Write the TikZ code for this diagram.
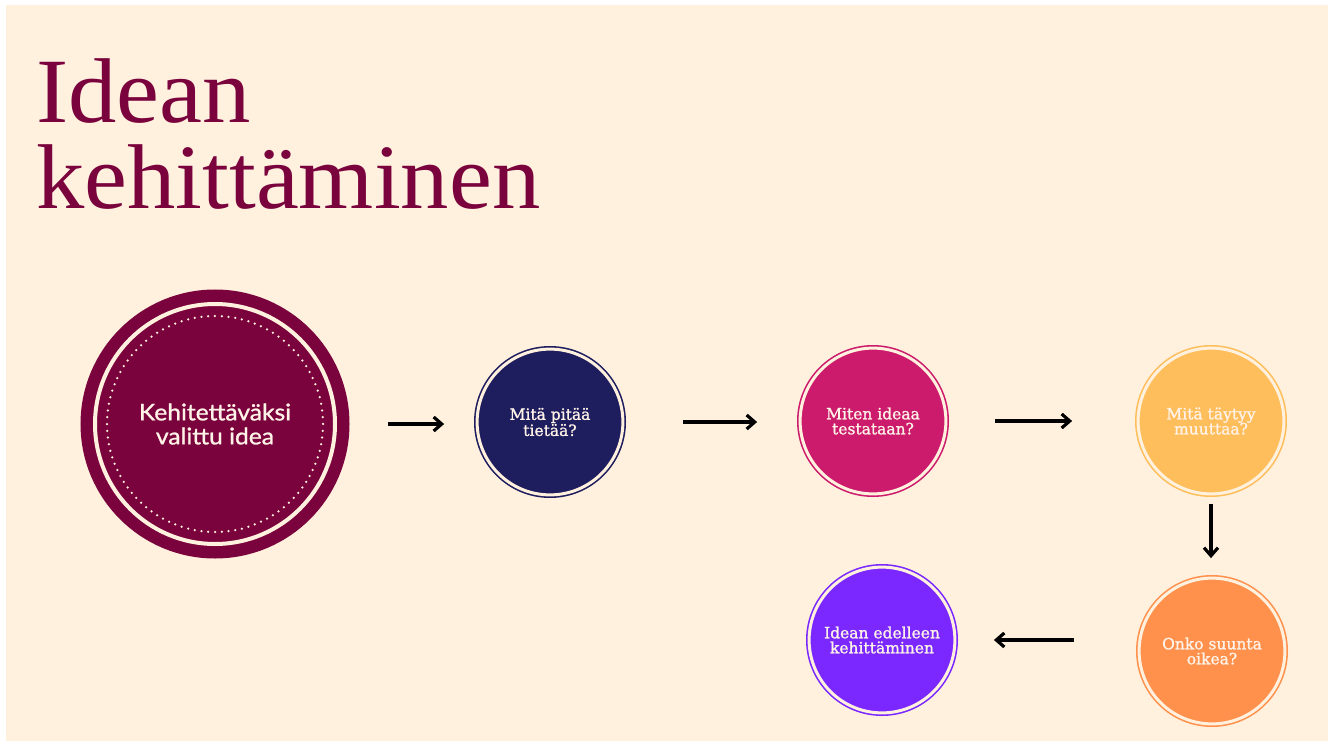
\documentclass[tikz,border=0pt]{standalone}
\usepackage{fontspec}
\setmainfont{Liberation Serif}
\newfontfamily\circfont[FakeBold=1.2]{DejaVu Serif}
\newfontfamily\bigfont[FakeBold=1]{Lato}
\usetikzlibrary{arrows.meta}
\definecolor{cream}{RGB}{255,241,222}
\definecolor{maroon}{RGB}{122,3,61}
\definecolor{navy}{RGB}{30,29,94}
\definecolor{pinkc}{RGB}{204,27,108}
\definecolor{yellowc}{RGB}{255,190,92}
\definecolor{orangec}{RGB}{255,145,77}
\definecolor{purplec}{RGB}{122,40,255}
\definecolor{textc}{RGB}{255,243,232}
\tikzset{
  titletext/.style={inner sep=0pt, outer sep=0pt, text=maroon, anchor=base west,
    font=\fontsize{92}{92}\selectfont},
  stage/.style={circle, minimum size=145.8pt, inner sep=0pt, outer sep=0pt,
    fill=#1, draw=#1, line width=1.6pt, double=cream, double distance=3pt,
    text=textc, align=center, font=\circfont\fontsize{15.5}{15}\selectfont},
  bigc/.style={circle, minimum size=240pt, inner sep=0pt, outer sep=0pt,
    fill=maroon, draw=maroon, line width=12.5pt, double=cream, double distance=4pt,
    text=textc, align=center, font=\bigfont\fontsize{23}{24}\selectfont},
  dotring/.style={cream, line width=2.5pt, line cap=round, dash pattern=on 0pt off 6.786pt},
  arr/.style={black, line width=3.2pt, -{Straight Barb[length=8pt,width=14pt]}}
}
\begin{document}
\begin{tikzpicture}[x=1pt,y=-1pt]
\useasboundingbox (0,0) rectangle (1333,746);
\fill[white] (0,0) rectangle (1333,746);
\fill[cream] (6,5) rectangle (1328,741);

\node[titletext] (t1) at (36,123) {\scalebox{1.05}[1]{Idean}};
\node[titletext] (t2) at (36,208) {\scalebox{1.05}[1]{kehittäminen}};

\node[bigc] (big) at (215,424) {\scalebox{1.07}[1]{Kehitettäväksi}\\\scalebox{1.07}[1]{valittu idea}};
\draw[dotring] (big.center) circle[radius=108];

\node[stage=navy] (s1) at (550,422) {Mitä pitää\\tietää?};
\node[stage=pinkc] (s2) at (873,421) {Miten ideaa\\testataan?};
\node[stage=yellowc] (s3) at (1211,421) {Mitä täytyy\\muuttaa?};
\node[stage=orangec] (s4) at (1212,651) {Onko suunta\\oikea?};
\node[stage=purplec] (s5) at (882,640) {Idean edelleen\\kehittäminen};

\draw[arr, shorten <=53pt, shorten >=33pt] (big.east) -- (big.east -| s1.west);
\draw[arr, shorten <=60pt, shorten >=43pt] (s1.east) -- (s1.east -| s2.west);
\draw[arr, shorten <=49pt, shorten >=66pt] (s2.east) -- (s2.east -| s3.west);
\draw[arr, shorten <=10pt, shorten >=20pt] (s3.south) -- (s3.south |- s4.north);
\draw[arr, shorten <=65pt, shorten >=39pt] (s5.east -| s4.west) -- (s5.east);
\end{tikzpicture}
\end{document}
